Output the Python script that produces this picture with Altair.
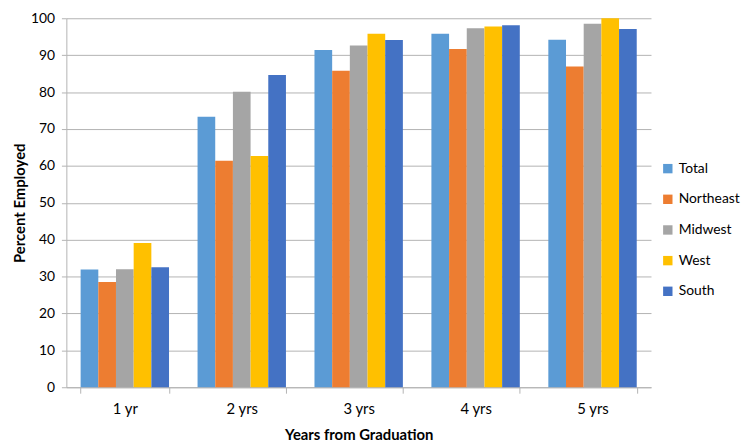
import altair as alt
import pandas as pd

years = ["1 yr", "2 yrs", "3 yrs", "4 yrs", "5 yrs"]
regions = ["Total", "Northeast", "Midwest", "West", "South"]
total = [31.9, 73.3, 91.4, 95.8, 94.2]
northeast = [28.5, 61.4, 85.8, 91.7, 86.9]
midwest = [32.0, 80.1, 92.6, 97.3, 98.5]
west = [39.1, 62.7, 95.8, 97.8, 100.0]
south = [32.5, 84.6, 94.1, 98.1, 97.1]
colors = ["#5B9BD5", "#ED7D31", "#A5A5A5", "#FFC000", "#4472C4"]

series = {"Total": total, "Northeast": northeast, "Midwest": midwest,
          "West": west, "South": south}
rows = []
for r in regions:
    for y, v in zip(years, series[r]):
        rows.append({"year": y, "region": r, "value": v})
df = pd.DataFrame(rows)

FONT = "Lato"
GRID = "#b3b3b3"

chart = alt.Chart(df).mark_bar().encode(
    x=alt.X("year:N", sort=years,
            scale=alt.Scale(paddingInner=0.244, paddingOuter=0.122),
            axis=alt.Axis(title="Years from Graduation", labelAngle=0,
                          tickBand="extent", tickSize=6, labelPadding=9,
                          labelFontSize=15,
                          titlePadding=11, domainColor=GRID, tickColor=GRID)),
    xOffset=alt.XOffset("region:N", sort=regions,
                        scale=alt.Scale(paddingInner=0, paddingOuter=0)),
    y=alt.Y("value:Q", scale=alt.Scale(domain=[0, 100], nice=False),
            axis=alt.Axis(title="Percent Employed", values=list(range(0, 101, 10)),
                          tickSize=5, labelPadding=7, titlePadding=3,
                          domainColor=GRID, tickColor=GRID, gridColor=GRID)),
    color=alt.Color("region:N", sort=regions,
                    scale=alt.Scale(domain=regions, range=colors),
                    legend=alt.Legend(title=None, orient="none", legendX=601,
                                      legendY=145, symbolType="square",
                                      symbolSize=90, symbolStrokeWidth=0,
                                      rowPadding=17, labelFontSize=14,
                                      labelOffset=4)),
).properties(
    width=591, height=373,
    autosize=alt.AutoSizeParams(type="none"),
    padding={"left": 59, "top": 8, "right": 92, "bottom": 56},
).configure_axis(
    labelFont=FONT, titleFont=FONT, labelFontSize=14, titleFontSize=15,
    labelColor="#000", titleColor="#000", titleFontWeight="bold",
    gridWidth=1,
).configure_legend(
    labelFont=FONT, labelColor="#000",
).configure_view(stroke=None)

chart.save("out.html", embed_options={"renderer": "svg", "actions": False})
